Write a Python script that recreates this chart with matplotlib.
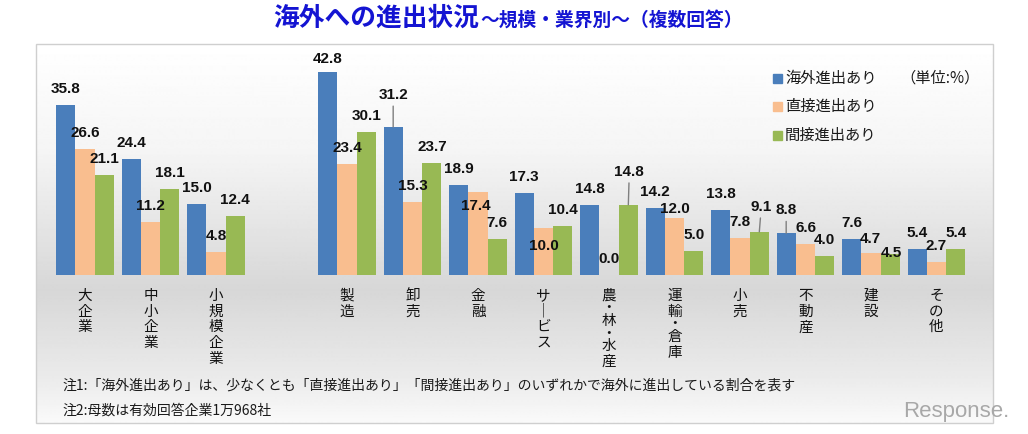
import numpy as np
import matplotlib
matplotlib.use('Agg')
import matplotlib.pyplot as plt
from matplotlib.patches import Rectangle
from matplotlib.transforms import blended_transform_factory

plt.rcParams['font.family'] = ['Noto Sans CJK JP', 'DejaVu Sans']

# data (%)
categories = ['大企業', '中小企業', '小規模企業', '製造', '卸売', '金融', 'サービス',
              '農・林・水産', '運輸・倉庫', '小売', '不動産', '建設', 'その他']
series_names = ['海外進出あり', '直接進出あり', '間接進出あり']
overseas = [35.8, 24.4, 15.0, 42.8, 31.2, 18.9, 17.3, 14.8, 14.2, 13.8, 8.8, 7.6, 5.4]
direct = [26.6, 11.2, 4.8, 23.4, 15.3, 17.4, 10.0, 0.0, 12.0, 7.8, 6.6, 4.7, 2.7]
indirect = [21.1, 18.1, 12.4, 30.1, 23.7, 7.6, 10.4, 14.8, 5.0, 9.1, 4.0, 4.5, 5.4]

title1 = '海外への進出状況'
title2 = '～規模・業界別～（複数回答）'
unit = '（単位:%）'
note1 = '注1:「海外進出あり」は、少なくとも「直接進出あり」「間接進出あり」のいずれかで海外に進出している割合を表す'
note2 = '注2:母数は有効回答企業1万968社'

colors = ['#4a7ebb', '#f9be8f', '#98b954']

# label offsets in pixels (dx, dy, leader line), default is (0, 16)
label_adj = {
    (0, 3): (0, 13, False),
    (0, 4): (0, 32, True),
    (1, 5): (-2, -14, False),
    (1, 6): (0, -18, False),
    (2, 7): (1, 33, True),
    (1, 8): (0, 9, False),
    (2, 9): (2, 25, True),
    (0, 10): (0, 23, True),
    (1, 11): (-1, 14, False),
    (2, 11): (1, 1, False),
}

W, H = 1028, 434
fig = plt.figure(figsize=(W / 100, H / 100), dpi=100)

# background panel in pixel coordinates
bg = fig.add_axes([0, 0, 1, 1], zorder=0)
bg.set_xlim(0, W)
bg.set_ylim(H, 0)
bg.axis('off')
yy = np.arange(44, 424)
shade = np.interp(yy, [44, 150, 290, 375, 423], [255, 245, 215, 234, 250]) / 255
grad = np.repeat(shade[:, None], 2, axis=1)
bg.imshow(grad, cmap='gray', vmin=0, vmax=1, extent=(36, 993, 423, 44), aspect='auto')
bg.add_patch(Rectangle((36, 44), 957, 379, fill=False, edgecolor='#cfcfcf', lw=1))

bg.text(273, 26, title1, fontsize=18.5, fontweight='bold', color='#1414d2', va='baseline')
bg.text(480, 26, title2, fontsize=13.5, fontweight='bold', color='#1414d2', va='baseline')

# legend
for i, name in enumerate(series_names):
    y = 78 + i * 28.5
    bg.add_patch(Rectangle((773, y - 4.5), 9, 9, color=colors[i]))
    bg.text(785, y, name, fontsize=11, va='center', color='#1a1a1a')
bg.text(900, 78, unit, fontsize=11, va='center', color='#1a1a1a')

bg.text(62, 386, note1, fontsize=10, va='center', color='#1a1a1a')
bg.text(62, 411, note2, fontsize=10, va='center', color='#1a1a1a')
bg.text(903, 412, 'Response.', fontsize=16, va='center', color='#a8a8a8',
        family='Liberation Sans')

# main bar chart
ax = fig.add_axes([52.25 / W, 159 / H, 917 / W, 45 * 4.745 / H], zorder=1)
ax.set_facecolor('none')
pos = np.r_[np.arange(3), np.arange(4, 14)]
bw = 0.295
for s, vals in enumerate([overseas, direct, indirect]):
    xs = pos + (s - 1) * bw
    ax.bar(xs, vals, width=bw, color=colors[s], zorder=2)
    for k, (x, v) in enumerate(zip(xs, vals)):
        dx, dy, lead = label_adj.get((s, k), (0, 16, False))
        kw = {}
        if lead:
            kw['arrowprops'] = dict(arrowstyle='-', color='#7f7f7f', lw=1,
                                    shrinkA=1, shrinkB=0)
        ax.annotate(f'{v:.1f}', (x, v), xytext=(dx, dy), textcoords='offset pixels',
                    ha='center', va='center', fontsize=11, fontweight='bold',
                    family='Liberation Sans', color='#111111', zorder=3,
                    annotation_clip=False, **kw)

ax.set_xlim(-0.5, 13.5)
ax.set_ylim(0, 45)
ax.set_xticks([])
ax.set_yticks([])
for sp in ax.spines.values():
    sp.set_visible(False)

# vertical category labels, one character per row (dots take half a row)
trans = blended_transform_factory(ax.transData, bg.transData)
for x, cat in zip(pos, categories):
    cur = 288
    for ch in cat:
        adv = 9.6 if ch == '・' else 15.7
        ch = '｜' if ch == 'ー' else ch
        bg.text(x, cur + adv / 2, ch, transform=trans, ha='center', va='center',
                fontsize=10.5, color='#111111')
        cur += adv

fig.savefig('out.png', dpi=100)
